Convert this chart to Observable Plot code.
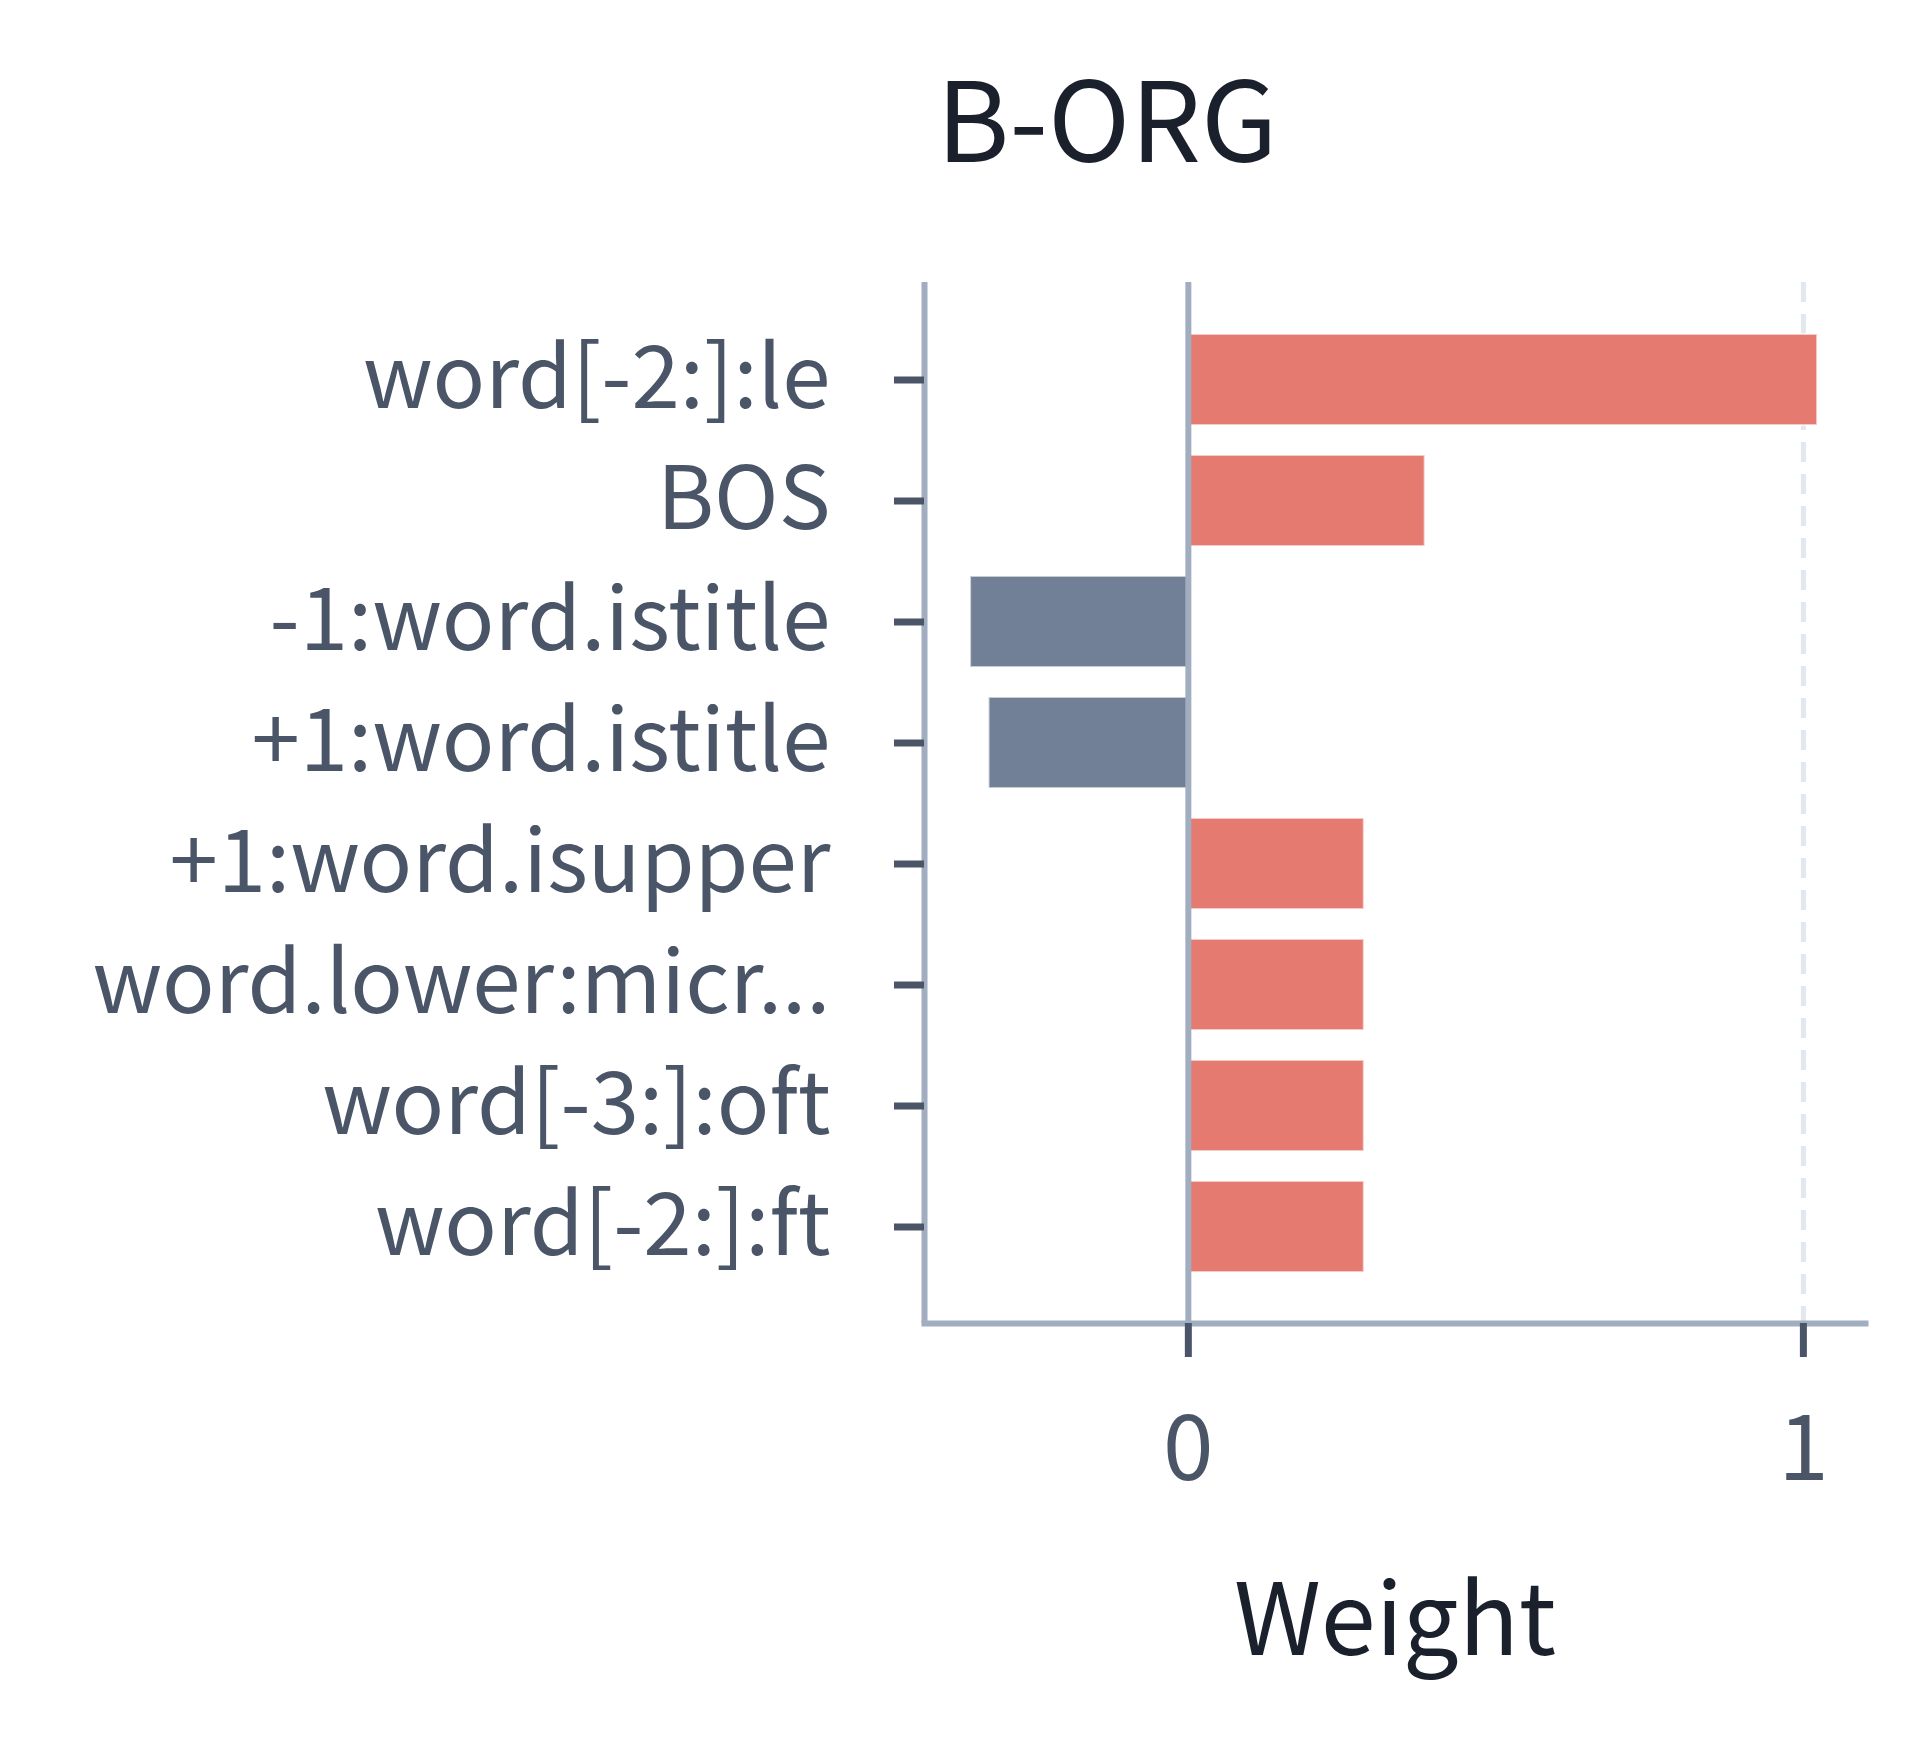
<!DOCTYPE html>
<html>
<head>
<meta charset="utf-8">
<script src="https://cdn.jsdelivr.net/npm/d3@7"></script>
<script src="https://cdn.jsdelivr.net/npm/@observablehq/plot@0.6"></script>
<style>
  html, body { margin: 0; padding: 0; background: #fff; }
  #wrap { position: relative; width: 1920px; height: 1760px; font-family: "Noto Sans CJK KR", "Noto Sans", sans-serif; }
  #title { position: absolute; left: 1107px; top: 58px; transform: translateX(-50%); font-size: 111px; line-height: 1; color: #1a202c; white-space: nowrap; }
  #chart { position: absolute; left: 0; top: 0; }
</style>
</head>
<body>
<div id="wrap">
  <div id="chart"></div>
  <div id="title">B-ORG</div>
</div>
<script>
const features = ["word[-2:]:le", "BOS", "-1:word.istitle", "+1:word.istitle", "+1:word.isupper", "word.lower:micr...", "word[-3:]:oft", "word[-2:]:ft"];
const weights = [1.023, 0.385, -0.354, -0.324, 0.286, 0.286, 0.286, 0.286];
const xTicks = [0, 1];
const xDomain = [-0.429, 1.101];

const data = features.map((f, i) => ({feature: f, weight: weights[i], sign: weights[i] >= 0 ? "pos" : "neg"}));

const chart = Plot.plot({
  width: 1920,
  height: 1760,
  marginLeft: 924,
  marginRight: 55,
  marginTop: 282,
  marginBottom: 437,
  style: { fontFamily: "Noto Sans CJK KR, Noto Sans, sans-serif", background: "#fff" },
  x: { domain: xDomain, ticks: xTicks, label: "Weight" },
  y: { domain: features, paddingInner: 0.25, paddingOuter: 0.41, label: null },
  color: { domain: ["pos", "neg"], range: ["#e57a71", "#718096"] },
  marks: [
    Plot.ruleX(xTicks.slice(1), { stroke: "#e2e8f0", strokeWidth: 5, strokeDasharray: "20,12" }),
    Plot.barX(data, { x: "weight", y: "feature", fill: "sign", stroke: "#fff", strokeOpacity: 0.6, strokeWidth: 2 }),
    Plot.ruleX([0], { stroke: "#a0aec0", strokeWidth: 6 }),
    Plot.ruleX([xDomain[0]], { stroke: "#a0aec0", strokeWidth: 6 }),
    Plot.frame({ anchor: "bottom", stroke: "#a0aec0", strokeWidth: 6 }),
    Plot.axisY({ tickSize: 30, tickPadding: 64, fontSize: 87, stroke: "#4a5568", strokeWidth: 7, fill: "#4a5568", label: null, textOverflow: null }),
    Plot.axisX({ ticks: xTicks, tickSize: 34, tickPadding: 58, fontSize: 91, stroke: "#4a5568", strokeWidth: 7, fill: "#4a5568", tickFormat: d3.format("d"), label: null }),
    Plot.axisX({ ticks: [], tickSize: 0, label: "Weight", labelAnchor: "center", labelArrow: "none", labelOffset: 331, fontSize: 99, fill: "#1a202c" })
  ]
});
document.getElementById("chart").appendChild(chart);
</script>
</body>
</html>
